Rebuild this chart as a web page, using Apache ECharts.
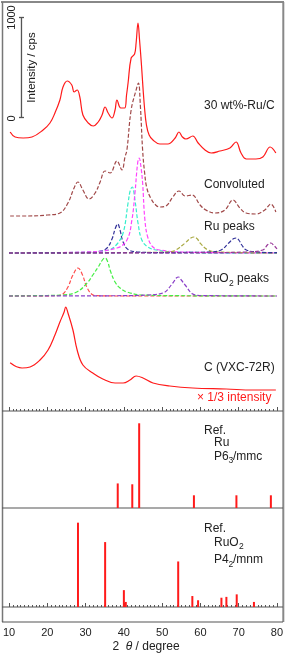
<!DOCTYPE html>
<html><head><meta charset="utf-8">
<script src="https://cdn.jsdelivr.net/npm/echarts@6/dist/echarts.min.js"></script>
<style>html,body{margin:0;padding:0;background:#fff}#c{width:286px;height:656px}</style>
</head><body><div id="c"></div>
<script>
const FONT = '"Liberation Sans", Arial, sans-serif';

// ---- measured XRD profiles: [2theta, intensity (cps, above own baseline)] ----
const ruC = [[10.3,280],[11.6,230],[13.7,220],[16,230],[18.9,300],[20.7,370],[22,470],[23.3,600],[24.1,730],[25.2,790],[26.4,750],[27,680],[27.8,700],[28.5,630],[29.3,450],[30.7,370],[32,340],[33.3,380],[34.3,450],[35.1,530],[35.9,470],[36.9,420],[37.7,500],[38.2,600],[39.2,520],[40.2,520],[40.7,650],[41.1,770],[41.9,1020],[42.8,1060],[43.2,1170],[43.7,1370],[44.1,1200],[44.6,950],[45.0,720],[45.4,520],[45.9,350],[46.6,250],[47.6,200],[49.4,160],[51.5,160],[53.4,220],[54.4,280],[55.3,230],[56.2,210],[58,240],[59.4,170],[61.2,100],[62.8,70],[65.1,90],[67.7,120],[69.3,180],[70.6,70],[72,10],[74.5,10],[76.3,30],[78.2,130],[79.7,70]];
const convoluted = [[10.3,0],[15,0],[20,10],[23.3,30],[25.4,130],[27,280],[28,340],[29.3,260],[30.9,170],[32.5,230],[33.8,340],[35.1,450],[36.4,430],[38.2,550],[39.5,460],[40.3,590],[40.8,660],[41.9,1060],[43.2,1260],[43.8,1330],[44.3,1110],[44.9,660],[45.4,440],[46,280],[47,180],[48.3,110],[49.4,90],[51,100],[52.8,190],[54.4,250],[56,200],[57.8,210],[59.9,110],[61.4,60],[63.8,30],[66.4,60],[68.5,160],[70.3,80],[71.9,30],[74.5,20],[76.8,60],[78.4,120],[79.7,40]];
// Ru component peaks
const ruPeak100 = [[10,0],[30,5],[34,20],[35.6,50],[36.9,140],[37.8,250],[38.4,290],[39,230],[39.8,110],[41.1,35],[43.4,12],[50,3],[80,0]];
const ruPeak002 = [[10,0],[30,8],[36,30],[38,80],[39.8,200],[41.1,500],[41.7,630],[42.2,660],[42.9,530],[43.7,300],[44.7,130],[46.3,60],[48.4,30],[55,8],[80,0]];
const ruPeak101 = [[10,0],[30,10],[38.2,50],[40.8,130],[42.1,330],[42.9,600],[43.6,900],[44,950],[44.5,850],[44.9,700],[45.5,330],[46.3,150],[47.6,60],[49.4,30],[55,10],[80,0]];
const ruPeak102 = [[10,0],[45,5],[52,12],[53.6,30],[56,100],[57.5,150],[58.3,160],[59.2,140],[59.9,100],[62,30],[65,10],[80,0]];
const ruPeak110 = [[10,0],[55,5],[63,12],[65.4,30],[67.4,100],[68.7,145],[69.4,150],[70.2,120],[70.8,80],[72,30],[75,10],[80,3]];
const ruPeak103 = [[10,0],[60,3],[72,10],[76.3,30],[77.6,85],[78.4,100],[79.2,75],[80,40]];
// RuO2 component peaks
const ruo2Peak110 = [[10,0],[20,2],[23,5],[24.1,20],[25.4,90],[26.7,210],[28,280],[29.2,210],[30.3,90],[31.7,15],[33,3],[40,0],[80,0]];
const ruo2Peak101 = [[10,0],[20,5],[24.1,10],[27.7,40],[30.4,130],[31.9,210],[33.3,290],[34.4,360],[35.1,380],[35.8,340],[36.4,260],[37.7,140],[39,80],[40.8,40],[45,10],[55,3],[80,0]];
const ruo2Peak211 = [[10,0],[40,3],[46,10],[50.2,30],[52.8,130],[53.7,180],[54.3,190],[55,160],[56,110],[58,20],[60,5],[80,0]];
// carbon support (x 1/3)
const carbon = [[10.3,283],[13.4,230],[15.5,240],[18.1,310],[20.2,410],[22,560],[23.3,690],[24.4,790],[24.8,840],[25.4,780],[26.7,610],[27.8,410],[29.3,260],[31.9,180],[34.5,120],[37.7,80],[39.8,80],[41.6,110],[43.2,150],[45,130],[47.6,80],[52,50],[58,30],[66.7,20],[73.7,10],[79.7,10]];

// reference patterns (relative intensity)
const ruRefTheta = [38.4, 42.2, 44.0, 58.3, 69.4, 78.4];
const ruRefInt   = [29, 28, 100, 15, 15, 15];
const ruo2RefTheta = [28.0, 35.1, 40.0, 40.5, 54.2, 57.9, 59.4, 65.5, 66.8, 69.5, 74.0];
const ruo2RefInt   = [100, 77, 20, 6, 54, 13, 8, 11, 12, 15, 6];

// x-axis ticks
const xMin = 10, xMax = 80, xStep = 10;

// vertical stacking offsets (cps) for the upper panel
const OFF_RUC = 2510, OFF_CONV = 1950, OFF_RU = 1580, OFF_RUO2 = 1150, OFF_C = 200;
const SCALE_ZERO = 2935, SCALE_SPAN = 1000, SCALE_THETA = 13.26;

const chart = echarts.init(document.getElementById('c'));

function prof(data, off, color, dashed) {
  return {
    type: 'line', xAxisIndex: 0, yAxisIndex: 0,
    data: data.map(p => [p[0], p[1] + off]),
    symbol: 'none', smooth: 0.4, silent: true,
    lineStyle: { color: color, width: 1.2, type: dashed ? [4, 2] : 'solid' }
  };
}
function sticks(th, val, idx) {
  return {
    type: 'bar', xAxisIndex: idx, yAxisIndex: idx,
    data: th.map((t, i) => [t, val[i]]),
    barWidth: 2, silent: true, itemStyle: { color: '#ff1a1a' }
  };
}
const tickStyle = { color: '#555', width: 1 };
function xAx(idx, extra) {
  return Object.assign({
    type: 'value', gridIndex: idx, min: xMin, max: xMax, interval: xStep,
    axisLine: { show: false }, splitLine: { show: false },
    axisTick: { show: true, inside: true, length: 4, lineStyle: tickStyle },
    minorTick: { show: true, splitNumber: 10, length: 2, lineStyle: tickStyle },
    axisLabel: { show: false }
  }, extra || {});
}
function ln(x1, y1, x2, y2, c, w) {
  return { type: 'line', silent: true, shape: { x1, y1, x2, y2 }, style: { stroke: c, lineWidth: w } };
}
function txt(x, y, s, size, color, rot) {
  return { type: 'text', x, y, rotation: rot || 0, silent: true,
    style: { text: s, font: size + 'px ' + FONT, fill: color || '#222', align: rot ? 'center' : 'left', verticalAlign: 'middle' } };
}

chart.setOption({
  animation: false,
  backgroundColor: '#fff',
  grid: [
    { left: 9, right: 9, top: 2, height: 409 },
    { left: 9, right: 9, top: 411, height: 97 },
    { left: 9, right: 9, top: 508, height: 99 }
  ],
  xAxis: [
    xAx(0),
    xAx(1, { show: false }),
    xAx(2, { offset: 15, axisLabel: { show: true, fontSize: 11, fontFamily: FONT, color: '#222', margin: 5 } })
  ],
  yAxis: [
    { type: 'value', gridIndex: 0, min: 0, max: 4090, show: false },
    { type: 'value', gridIndex: 1, min: 0, max: 114.5, show: false },
    { type: 'value', gridIndex: 2, min: 0, max: 117.4, show: false }
  ],
  series: [
    prof(carbon, OFF_C, '#ff1a1a', false),
    prof(ruo2Peak110, OFF_RUO2, '#ff4d4d', true),
    prof(ruo2Peak101, OFF_RUO2, '#44ee44', true),
    prof(ruo2Peak211, OFF_RUO2, '#8a3fc8', true),
    prof(ruPeak100, OFF_RU, '#33339a', true),
    prof(ruPeak002, OFF_RU, '#33eecc', true),
    prof(ruPeak101, OFF_RU, '#ff44ff', true),
    prof(ruPeak102, OFF_RU, '#aaaa44', true),
    prof(ruPeak110, OFF_RU, '#33339a', true),
    prof(ruPeak103, OFF_RU, '#9a3a9a', true),
    prof(convoluted, OFF_CONV, '#a04848', true),
    prof(ruC, OFF_RUC, '#ff1a1a', false),
    { type: 'line', xAxisIndex: 0, yAxisIndex: 0, silent: true,
      data: [[SCALE_THETA, SCALE_ZERO], [SCALE_THETA, SCALE_ZERO + SCALE_SPAN]],
      symbol: 'rect', symbolSize: [5, 1.3], itemStyle: { color: '#555' },
      lineStyle: { color: '#555', width: 1.3 } },
    sticks(ruRefTheta, ruRefInt, 1),
    sticks(ruo2RefTheta, ruo2RefInt, 2)
  ],
  graphic: [
    ln(1, 2, 284, 2, '#888', 2),
    ln(2.5, 2, 2.5, 622, '#777', 1.5),
    ln(283.3, 2, 283.3, 622, '#888', 2),
    ln(2, 411, 283, 411, '#555', 1.2),
    ln(2, 508, 283, 508, '#555', 1.2),
    ln(2, 607, 283, 607, '#555', 1.2),
    ln(2, 622, 283, 622, '#555', 1.2),
    txt(12, 17.5, '1000', 11, '#222', Math.PI / 2),
    txt(12, 118.5, '0', 11, '#222', Math.PI / 2),
    txt(32, 67.5, 'Intensity / cps', 11.5, '#222', Math.PI / 2),
    txt(204, 106, '30 wt%-Ru/C', 12),
    txt(204, 185, 'Convoluted', 12),
    txt(204, 227, 'Ru peaks', 12),
    txt(204, 279, 'RuO', 12), txt(229, 283.5, '2', 8.5), txt(237, 279, 'peaks', 12),
    txt(204, 368, 'C (VXC-72R)', 12),
    txt(197, 398, '× 1/3 intensity', 12, '#ff1a1a'),
    txt(204, 430.7, 'Ref.', 12),
    txt(214, 443, 'Ru', 12),
    txt(214, 456.7, 'P6', 12), txt(228.5, 461, '3', 8.5), txt(233, 456.7, '/mmc', 12),
    txt(204, 529, 'Ref.', 12),
    txt(214, 542.7, 'RuO', 12), txt(239, 547, '2', 8.5),
    txt(214, 560, 'P4', 12), txt(228.5, 564.5, '2', 8.5), txt(233, 560, '/mnm', 12),
    { type: 'text', x: 146, y: 647, silent: true,
      style: { text: '2  {i|θ} / degree', font: '12px ' + FONT, fill: '#222', align: 'center', verticalAlign: 'middle',
        rich: { i: { fontStyle: 'italic', fontSize: 12, fontFamily: FONT } } } }
  ]
});
</script></body></html>
